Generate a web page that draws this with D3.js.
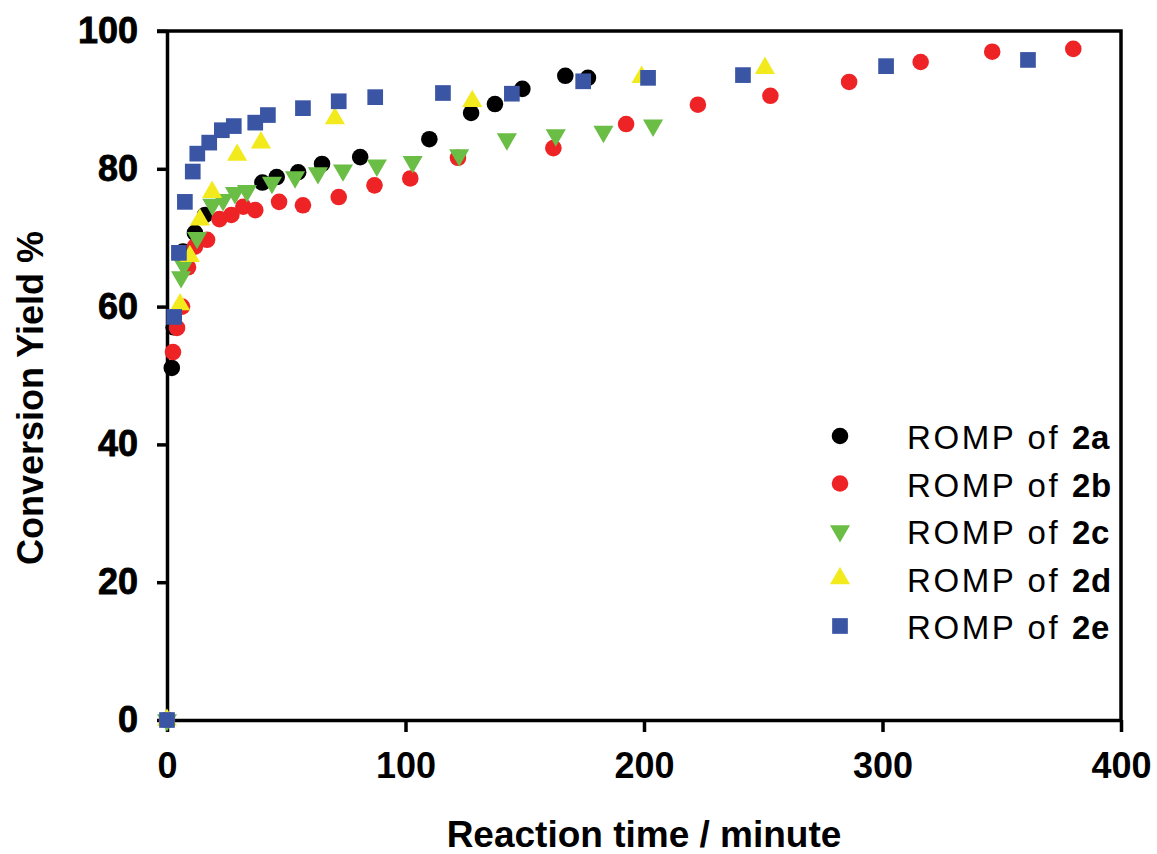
<!DOCTYPE html>
<html>
<head>
<meta charset="utf-8">
<script src="https://cdn.jsdelivr.net/npm/d3@7"></script>
<style>
  body { margin: 0; background: #fff; }
  svg { display: block; font-family: 'Liberation Sans', Arial, sans-serif; }
</style>
</head>
<body>
<script>
const width = 1157;
const height = 854;

// readings: [minutes, conversion %]
const series2a = [[0, 0], [2, 51.1], [2.8, 57], [6.7, 68], [11.7, 70.7], [16, 73.3], [40, 78], [46, 78.8],
  [55, 79.5], [65, 80.7], [81, 81.7], [110, 84.3], [127.5, 88.1], [137.5, 89.4], [149, 91.6],
  [167, 93.5], [176.5, 93.2]];
const series2b = [[0, 0], [2.5, 53.4], [4.2, 56.9], [6.3, 60], [8.8, 65.7], [11.7, 68.7], [16.8, 69.7],
  [22, 72.7], [27, 73.3], [32, 74.5], [37, 74], [47, 75.2], [57, 74.7], [72, 75.9], [87, 77.6],
  [102, 78.6], [122, 81.6], [162, 83], [192.5, 86.5], [222.6, 89.3], [253, 90.6], [286, 92.6],
  [316, 95.5], [346, 97], [380, 97.4]];
const series2c = [[0, 0], [5.9, 64.3], [7, 66], [12.6, 70], [19, 74.8], [23.5, 75.5], [28.5, 76.5],
  [33.5, 76.8], [44, 78], [53.7, 78.8], [63.3, 79.4], [73.8, 79.8], [88, 80.5], [103, 81],
  [122.5, 82], [142.5, 84.3], [163, 84.9], [183, 85.4], [203.8, 86.3]];
const series2d = [[0, 0], [5.5, 60.3], [9.6, 67.3], [13.8, 72.6], [18.9, 76.6], [29.4, 82], [39.4, 83.8],
  [70.4, 87.3], [128, 89.8], [199, 93.3], [250.7, 94.6]];
const series2e = [[0, 0], [3, 58.5], [5, 67.8], [7.5, 75.2], [10.8, 79.6], [12.7, 82.2], [17.7, 83.8],
  [23, 85.6], [28, 86.2], [37, 86.7], [42.3, 87.8], [57, 88.8], [72, 89.8], [87.3, 90.4],
  [115.7, 91], [144.6, 90.9], [174.5, 92.7], [201.7, 93.2], [241.5, 93.6], [301.5, 94.9], [361, 95.8]];

const seriesLabels = ['2a', '2b', '2c', '2d', '2e'];
const xTicks = [0, 100, 200, 300, 400];
const yTicks = [0, 20, 40, 60, 80, 100];

const seriesList = [
  { key: '2a', data: series2a, shape: 'circle', color: '#000000' },
  { key: '2b', data: series2b, shape: 'circle', color: '#ee2326' },
  { key: '2c', data: series2c, shape: 'down', color: '#6abd45' },
  { key: '2d', data: series2d, shape: 'up', color: '#f2ea1d' },
  { key: '2e', data: series2e, shape: 'square', color: '#3a55a4' }
];

const margin = { top: 31, right: 36, bottom: 134, left: 167 };

const x = d3.scaleLinear().domain([0, 400]).range([margin.left, width - margin.right]);
const y = d3.scaleLinear().domain([0, 100]).range([height - margin.bottom, margin.top]);

const symbolFor = shape => {
  if (shape === 'circle') return d3.symbol(d3.symbolCircle, 216)();
  if (shape === 'square') return d3.symbol(d3.symbolSquare, 246)();
  return d3.symbol(d3.symbolTriangle, 175)();
};

const svg = d3.select('body')
  .append('svg')
  .attr('width', width)
  .attr('height', height);

// frame: top and right lines
svg.append('path')
  .attr('d', `M${margin.left - 10},${y(100)}H${x(400)}V${y(0)}`)
  .attr('fill', 'none')
  .attr('stroke', '#000')
  .attr('stroke-width', 3.5);

const xAxis = svg.append('g')
  .attr('transform', `translate(0,${y(0)})`)
  .call(d3.axisBottom(x).tickValues(xTicks).tickSize(12).tickSizeOuter(0).tickPadding(20));

const yAxis = svg.append('g')
  .attr('transform', `translate(${x(0)},0)`)
  .call(d3.axisLeft(y).tickValues(yTicks).tickSize(10).tickSizeOuter(0).tickPadding(19));

[xAxis, yAxis].forEach(g => {
  g.select('.domain').attr('stroke-width', 3.5);
  g.selectAll('.tick line').attr('stroke-width', 3.5);
  g.selectAll('.tick text')
    .attr('fill', '#000')
    .style('font-family', "'Liberation Sans', Arial, sans-serif")
    .style('font-weight', 'bold')
    .style('font-size', '36px');
});
xAxis.selectAll('.tick text').attr('dy', '0.71em');
yAxis.selectAll('.tick text').attr('stroke', '#000').attr('stroke-width', 0.8);

// points, drawn 2a first so 2e sits on top
seriesList.forEach(s => {
  svg.append('g')
    .selectAll('path')
    .data(s.data).enter()
    .append('path')
    .attr('d', symbolFor(s.shape))
    .attr('fill', s.color)
    .attr('transform', d => `translate(${x(d[0])},${y(d[1])})` + (s.shape === 'down' ? ' rotate(180)' : ''));
});

// legend
const legend = svg.append('g')
  .selectAll('g')
  .data(seriesList).enter()
  .append('g')
  .attr('transform', (d, i) => `translate(840,${436 + i * 47.5})`);

legend.append('path')
  .attr('d', d => symbolFor(d.shape))
  .attr('fill', d => d.color)
  .attr('transform', d => d.shape === 'down' ? 'rotate(180)' : null);

const legendText = legend.append('text')
  .attr('x', 67)
  .attr('y', 13)
  .style('font-size', '33px');

legendText.append('tspan')
  .style('letter-spacing', '2.6px')
  .text('ROMP of ');
legendText.append('tspan')
  .style('font-weight', 'bold')
  .style('letter-spacing', '0.5px')
  .text((d, i) => seriesLabels[i]);

// axis titles
svg.append('text')
  .attr('x', (x(0) + x(400)) / 2)
  .attr('y', 847)
  .attr('text-anchor', 'middle')
  .style('font-size', '37px')
  .style('font-weight', 'bold')
  .text('Reaction time / minute');

svg.append('text')
  .attr('transform', `translate(43,398) rotate(-90)`)
  .attr('text-anchor', 'middle')
  .style('font-size', '36px')
  .style('font-weight', 'bold')
  .text('Conversion Yield %');
</script>
</body>
</html>
